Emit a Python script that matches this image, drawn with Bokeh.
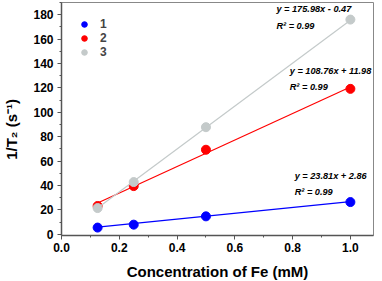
from bokeh.plotting import figure
from bokeh.models import Range1d, Label, NumeralTickFormatter, FixedTicker
from bokeh.embed import file_html
from bokeh.resources import INLINE

conc = [0.125, 0.25, 0.5, 1.0]
s1 = [5.5, 7.9, 14.7, 26.4]
s2 = [23.2, 39.5, 69.3, 119.2]
s3 = [21.5, 42.8, 87.8, 176.0]
fit_x = [0.125, 1.0]
fit1 = [5.8, 26.7]
fit2 = [25.6, 120.7]
fit3 = [21.5, 175.5]
names = ["1", "2", "3"]
colors = ["#0000ff", "#ff0000", "#c4caca"]
eqs = ["y = 23.81x + 2.86", "y = 108.76x + 11.98", "y = 175.98x - 0.47"]
r2 = ["R\u00b2 = 0.99", "R\u00b2 = 0.99", "R\u00b2 = 0.99"]
y_ticks = [0, 20, 40, 60, 80, 100, 120, 140, 160, 180]
x_ticks = [0.0, 0.2, 0.4, 0.6, 0.8, 1.0]

FONT = "Liberation Sans"

p = figure(output_backend="svg", toolbar_location=None,
           frame_width=312, frame_height=233,
           min_border_left=55, min_border_right=7, min_border_top=2, min_border_bottom=44,
           x_range=Range1d(0, 1.08), y_range=Range1d(-1, 190))
p.grid.visible = False
p.outline_line_color = "#888888"
p.outline_line_width = 1
p.background_fill_color = "white"

for ax in (p.xaxis, p.yaxis):
    ax.axis_line_color = "#555555"
    ax.axis_line_width = 1.5
    ax.major_tick_line_color = "#555555"
    ax.minor_tick_line_color = "#555555"
    ax.major_tick_in = 0
    ax.major_tick_out = 4
    ax.minor_tick_in = 0
    ax.minor_tick_out = 2
    ax.major_label_text_font = FONT
    ax.major_label_text_font_style = "bold"
    ax.major_label_text_font_size = "12px"
    ax.major_label_text_color = "black"
    ax.axis_label_text_font = FONT
    ax.axis_label_text_font_style = "bold"
    ax.axis_label_text_font_size = "15px"
    ax.axis_label_text_color = "black"

p.yaxis.ticker = FixedTicker(ticks=y_ticks, minor_ticks=[v + 10 for v in y_ticks])
p.xaxis.ticker = FixedTicker(ticks=x_ticks, minor_ticks=[round(v + 0.1, 2) for v in x_ticks])
p.xaxis.formatter = NumeralTickFormatter(format="0.0")
p.xaxis.axis_label = "Concentration of Fe (mM)"
p.yaxis.axis_label = "1/T\u2082 (s\u207b\u00b9)" + "\u00a0" * 5
p.xaxis.axis_label_standoff = 8
p.yaxis.axis_label_standoff = 10
p.xaxis.major_label_standoff = 3
p.yaxis.major_label_standoff = 4

series = [s1, s2, s3]
fits = [fit1, fit2, fit3]
for name, col, ys, fy in zip(names, colors, series, fits):
    p.line(fit_x, fy, line_color=col, line_width=1.2)
    p.scatter(conc, ys, size=9, fill_color=col, line_color=col, legend_label=name)

p.legend.location = (16, 176)
p.legend.border_line_color = None
p.legend.background_fill_alpha = 0
p.legend.label_text_font = FONT
p.legend.label_text_font_style = "bold"
p.legend.label_text_font_size = "12px"
p.legend.glyph_width = 14
p.legend.glyph_height = 14
p.legend.label_height = 14
p.legend.spacing = 0
p.legend.margin = 0
p.legend.padding = 0
p.legend.label_standoff = 9

# equation labels (data coordinates)
lab_x = [0.807, 0.79, 0.744]
lab_y = [48.0, 134.0, 184.5]
for ex, ey, eq, rr in zip(lab_x, lab_y, eqs, r2):
    p.add_layout(Label(x=ex, y=ey, text=eq, text_font=FONT, text_font_style="bold italic",
                       text_font_size="9.2px", text_color="black", text_baseline="middle"))
    p.add_layout(Label(x=ex, y=ey - 13.5, text=rr, text_font=FONT, text_font_style="bold italic",
                       text_font_size="9.2px", text_color="black", text_baseline="middle"))

open("out.html", "w").write(file_html(p, INLINE))
